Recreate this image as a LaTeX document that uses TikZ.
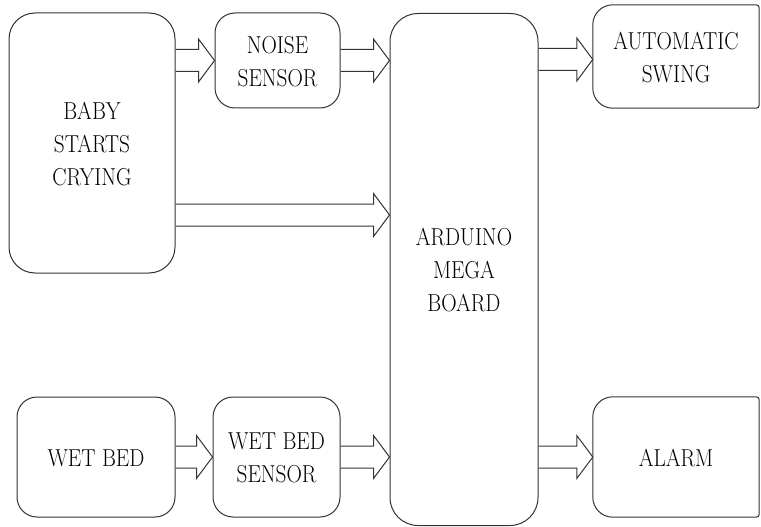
\documentclass[tikz,border=0pt]{standalone}
\usepackage{fontspec}
\usetikzlibrary{calc}
\newcommand\sq[1]{\raisebox{-2.5pt}[\height][\depth]{\scalebox{0.87}[1]{\begin{tabular}{@{}c@{}}#1\end{tabular}}}}
\tikzset{
  box/.style={draw=black!80, line width=1pt, fill=white, rounded corners=#1,
    align=center, inner sep=0pt,
    font=\fontsize{24.5}{33}\selectfont},
  box/.default=20pt,
  openbox/.style={draw=none, align=center, inner sep=0pt,
    font=\fontsize{24.5}{33}\selectfont},
  arr/.style={draw=black!80, line width=1pt, line join=miter}
}
\newcommand\blockarrow[2]{%
  \draw[arr] ($(#1)+(0,-11)$) -- ($(#2)+(-16,-11)$) -- ($(#2)+(-16,-21.5)$)
    -- (#2) -- ($(#2)+(-16,21.5)$) -- ($(#2)+(-16,11)$) -- ($(#1)+(0,11)$);}
\begin{document}
\begin{tikzpicture}[x=1pt,y=-1pt]
\useasboundingbox (0,0) rectangle (761,527);
\node[box=26pt, minimum width=166pt, minimum height=260pt] (baby) at (92,143) {\sq{BABY\\STARTS\\CRYING}};
\node[box, minimum width=125pt, minimum height=95pt] (noise) at (277.5,60.5) {\sq{NOISE\\SENSOR}};
\node[box=28pt, minimum width=148pt, minimum height=512pt] (ard) at (464,269.5) {\sq{ARDUINO\\MEGA\\BOARD}};
\node[openbox, minimum width=166pt, minimum height=103pt] (swing) at (676,56.5) {\sq{AUTOMATIC\\SWING}};
\node[openbox, minimum width=166pt, minimum height=120pt] (alarm) at (676,457) {\sq{ALARM}};
\node[box, minimum width=158pt, minimum height=120pt] (wet) at (96,457) {\sq{WET BED}};
\node[box, minimum width=127pt, minimum height=120pt] (wbs) at (276.5,457) {\sq{WET BED\\SENSOR}};
% right-hand boxes, cut at the picture's edge
\draw[draw=black!80, line width=1pt] (swing.north) [rounded corners=20pt] -| (swing.west) |- (swing.south) [rounded corners=3pt] -| (swing.east) |- (swing.north);
\draw[draw=black!80, line width=1pt] (alarm.north) [rounded corners=20pt] -| (alarm.west) |- (alarm.south) [rounded corners=3pt] -| (alarm.east) |- (alarm.north);
% connectors
\coordinate (c1) at (0,215);
\coordinate (c2) at (0,59.5);
\blockarrow{baby.east |- noise.west}{noise.west}
\blockarrow{noise.east}{ard.west |- noise.east}
\blockarrow{baby.east |- c1}{ard.west |- c1}
\blockarrow{ard.east |- c2}{swing.west |- c2}
\blockarrow{wet.east}{wbs.west}
\blockarrow{wbs.east}{ard.west |- wbs.east}
\blockarrow{ard.east |- alarm.west}{alarm.west}
\end{tikzpicture}
\end{document}
